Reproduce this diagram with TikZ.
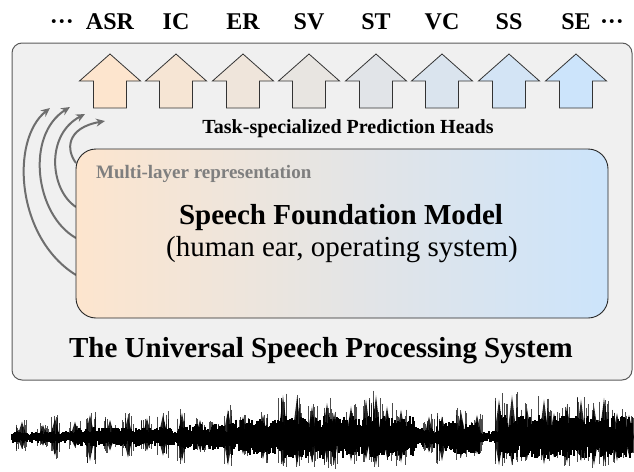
\documentclass[tikz,border=0pt]{standalone}
\usepackage{fontspec}
\setmainfont{Liberation Serif}
\usepackage{tikz}
\usetikzlibrary{arrows.meta}
\definecolor{peach}{HTML}{FDE5CE}
\definecolor{skyb}{HTML}{CCE4FB}
\definecolor{panel}{HTML}{F0F0F0}
\definecolor{edge}{HTML}{5A5A5A}
\definecolor{layergray}{HTML}{6E6E6E}
\definecolor{captiongray}{HTML}{7F7F7F}
% block arrow of one prediction head: #1 = centre x, #2 = fill
\newcommand{\headarrow}[2]{%
  \draw[headshape,fill=#2] (#1-30.5,81) -- (#1,54) -- (#1+30.5,81) -- (#1+16.5,81)
    -- (#1+16.5,108) -- (#1-16.5,108) -- (#1-16.5,81) -- cycle;}

\begin{document}
\begin{tikzpicture}[
    x=1pt, y=-1pt,
    outerbox/.style={draw=edge,line width=1pt,rounded corners=10pt,fill=panel,inner sep=0pt},
    modelbox/.style={draw=black!85,line width=0.9pt,rounded corners=20pt,left color=peach,right color=skyb,inner sep=0pt},
    headshape/.style={draw=black!80,line width=0.8pt,line join=miter},
    tasklabel/.style={inner sep=0pt,anchor=base,font=\bfseries\fontsize{24}{28}\selectfont},
    bigtext/.style={inner sep=0pt,anchor=base,font=\fontsize{29}{34}\selectfont},
    layerarrow/.style={draw=layergray,line width=2pt,-{Stealth[length=9pt,width=8pt]}}
]
\useasboundingbox (0,0) rectangle (634,471);

\node[outerbox,minimum width=620pt,minimum height=337pt] (usps) at (322,211.5) {};

% layer taps
\coordinate (la) at (76,275);
\coordinate (lb) at (76,238);
\coordinate (lc) at (76,207);
\coordinate (ld) at (76,163);
\coordinate (ta) at (50,108);
\coordinate (tb) at (70,107);
\coordinate (tc) at (85,114);
\coordinate (td) at (105,121);
\draw[layerarrow] (la) .. controls (16,238) and (10,140) .. (ta);
\draw[layerarrow] (lb) .. controls (35,215) and (25,135) .. (tb);
\draw[layerarrow] (lc) .. controls (50,190) and (45,135) .. (tc);
\draw[layerarrow] (ld) .. controls (66,150) and (66,128) .. (td);

\node[modelbox,minimum width=532pt,minimum height=169pt] (sfm) at (342,233.5) {};
\node[inner sep=0pt,anchor=base west,text=captiongray,font=\bfseries\fontsize{19}{22}\selectfont] (layers) at (96,178) {Multi-layer representation};
\node[bigtext,font=\bfseries\fontsize{29}{34}\selectfont] (sfmtitle) at (341,224) {Speech Foundation Model};
\node[bigtext] (sfmsub) at (342,256) {(human ear, operating system)};

\node[inner sep=0pt,anchor=base,font=\bfseries\fontsize{20}{24}\selectfont] (heads) at (348,133) {Task-specialized Prediction Heads};
\node[bigtext,font=\bfseries\fontsize{29}{34}\selectfont] (system) at (321,357) {The Universal Speech Processing System};

% prediction heads
\headarrow{110}{peach}
\headarrow{176}{peach!86!skyb}
\headarrow{243}{peach!71!skyb}
\headarrow{309}{peach!57!skyb}
\headarrow{376}{peach!43!skyb}
\headarrow{442}{peach!29!skyb}
\headarrow{509}{peach!14!skyb}
\headarrow{576}{skyb}

\node[tasklabel] (ldots) at (62,29) {···};
\node[tasklabel] (asr) at (110,29) {ASR};
\node[tasklabel] (ic) at (176,29) {IC};
\node[tasklabel] (er) at (243,29) {ER};
\node[tasklabel] (sv) at (309,29) {SV};
\node[tasklabel] (st) at (376,29) {ST};
\node[tasklabel] (vc) at (442,29) {VC};
\node[tasklabel] (ss) at (509,29) {SS};
\node[tasklabel] (se) at (576,29) {SE};
\node[tasklabel] (rdots) at (612,29) {···};

% speech waveform
\pgfmathsetseed{42}
\foreach \x in {12,13,...,632}{
  \pgfmathsetmacro{\bodyamp}{\x<75 ? 5 : (\x<180 ? 8 : (\x<230 ? 11 : (\x<280 ? 15 : (\x<415 ? 18 : (\x<440 ? 9 : (\x<480 ? 14 : (\x<500 ? 5 : 18)))))))}
  \pgfmathsetmacro{\up}{\bodyamp*(0.45+0.75*rnd)}
  \pgfmathsetmacro{\dn}{\bodyamp*(0.45+0.75*rnd)}
  \draw[line width=1.3pt] (\x,437-\up) -- (\x,437+\dn);
}
\foreach \p/\u/\d in {22/18/14, 43/14/10, 55/22/22, 75/18/12, 90/26/28, 110/20/16, 128/24/24, 147/22/16,
    163/26/22, 182/28/28, 200/20/16, 213/16/14, 228/32/33, 243/24/20, 263/26/26, 283/49/33, 297/47/33,
    312/36/30, 327/40/28, 334/28/32, 351/36/28, 366/44/26, 376/49/33, 387/36/24, 401/32/30, 429/24/18,
    442/24/28, 461/30/24, 477/26/20, 499/44/33, 512/49/33, 527/34/26, 544/44/32, 554/28/24, 567/36/30,
    581/44/28, 594/36/33, 604/46/30, 617/28/28, 629/26/22}{
  \fill[black,opacity=.85] (\p-5,437) .. controls (\p-2,437-0.5*\u) .. (\p,437-0.85*\u)
    .. controls (\p+2,437-0.5*\u) .. (\p+5,437) .. controls (\p+2,437+0.5*\d) .. (\p,437+0.85*\d)
    .. controls (\p-2,437+0.5*\d) .. (\p-5,437) -- cycle;
  \foreach \k in {1,...,8}{
    \pgfmathsetmacro{\dx}{12*rnd-6}
    \pgfmathsetmacro{\hu}{\u*(0.4+0.6*rnd)}
    \pgfmathsetmacro{\hd}{\d*(0.4+0.6*rnd)}
    \draw[line width=1pt,opacity=.7] (\p+\dx,437-\hu) -- (\p+\dx,437+\hd);
  }
}
\end{tikzpicture}
\end{document}
